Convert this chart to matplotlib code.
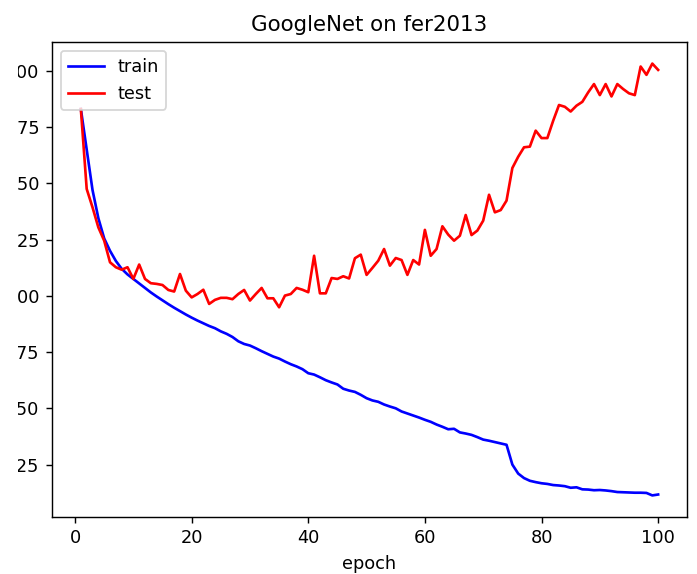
import matplotlib
matplotlib.use("Agg")
import matplotlib.pyplot as plt
from matplotlib.patches import Rectangle
import numpy as np

epochs = list(range(1, 101))

train_loss = [
    1.830, 1.650, 1.470, 1.345, 1.255, 1.200, 1.155, 1.120, 1.095, 1.075,
    1.055, 1.035, 1.015, 0.997, 0.980, 0.963, 0.947, 0.932, 0.917, 0.903,
    0.890, 0.878, 0.866, 0.856, 0.842, 0.831, 0.817, 0.798, 0.786, 0.779,
    0.767, 0.754, 0.742, 0.730, 0.721, 0.708, 0.696, 0.686, 0.674, 0.656,
    0.650, 0.638, 0.625, 0.615, 0.606, 0.587, 0.579, 0.573, 0.560, 0.545,
    0.535, 0.529, 0.517, 0.508, 0.500, 0.486, 0.477, 0.468, 0.459, 0.449,
    0.440, 0.428, 0.418, 0.407, 0.409, 0.393, 0.388, 0.382, 0.372, 0.361,
    0.356, 0.350, 0.344, 0.338, 0.250, 0.210, 0.190, 0.178, 0.172, 0.167,
    0.164, 0.159, 0.157, 0.154, 0.147, 0.149, 0.140, 0.139, 0.136, 0.137,
    0.135, 0.132, 0.128, 0.127, 0.126, 0.125, 0.125, 0.124, 0.113, 0.117,
]

test_loss = [
    1.830, 1.475, 1.393, 1.304, 1.245, 1.149, 1.127, 1.116, 1.127, 1.075,
    1.139, 1.075, 1.056, 1.053, 1.048, 1.026, 1.019, 1.097, 1.023, 0.993,
    1.008, 1.027, 0.964, 0.982, 0.991, 0.991, 0.985, 1.008, 1.026, 0.979,
    1.008, 1.035, 0.989, 0.989, 0.949, 1.001, 1.008, 1.035, 1.027, 1.016,
    1.178, 1.011, 1.011, 1.079, 1.075, 1.087, 1.077, 1.167, 1.183, 1.093,
    1.124, 1.156, 1.208, 1.134, 1.168, 1.159, 1.093, 1.159, 1.139, 1.293,
    1.178, 1.208, 1.309, 1.272, 1.245, 1.267, 1.359, 1.270, 1.290, 1.334,
    1.449, 1.371, 1.381, 1.423, 1.568, 1.618, 1.660, 1.663, 1.734, 1.701,
    1.701, 1.778, 1.848, 1.840, 1.819, 1.845, 1.862, 1.904, 1.941, 1.892,
    1.941, 1.886, 1.941, 1.919, 1.900, 1.892, 2.019, 1.982, 2.032, 2.004,
]

W, H, DPI = 697, 574, 128
fig = plt.figure(figsize=(W / DPI, H / DPI), dpi=DPI)
ax = fig.add_axes([52 / W, (H - 517) / H, 635 / W, 475 / H])

ax.plot(epochs, train_loss, color="blue", label="train")
ax.plot(epochs, test_loss, color="red", label="test")
ax.set_title("GoogleNet on fer2013")
ax.set_xlabel("epoch")
ax.legend(loc="upper left")

# white margin along the left edge of the canvas
fig.add_artist(Rectangle((0, 0), 17.5 / W, 1, transform=fig.transFigure,
                         facecolor="white", edgecolor="none", zorder=10))

fig.savefig("out.png", dpi=DPI)
